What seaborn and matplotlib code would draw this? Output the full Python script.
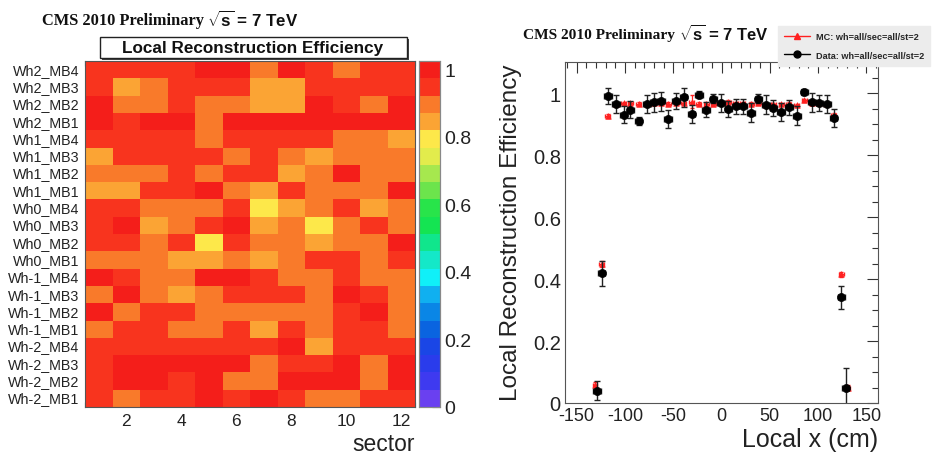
import matplotlib
matplotlib.use("Agg")
import matplotlib.pyplot as plt
from matplotlib.colors import ListedColormap
from matplotlib.patches import Rectangle
from matplotlib.lines import Line2D
from matplotlib.ticker import MultipleLocator, FixedLocator
import numpy as np
import pandas as pd
import seaborn as sns

# ---------------- data ----------------
sectors = list(range(1, 13))
chambers = ["Wh2_MB4", "Wh2_MB3", "Wh2_MB2", "Wh2_MB1",
            "Wh1_MB4", "Wh1_MB3", "Wh1_MB2", "Wh1_MB1",
            "Wh0_MB4", "Wh0_MB3", "Wh0_MB2", "Wh0_MB1",
            "Wh-1_MB4", "Wh-1_MB3", "Wh-1_MB2", "Wh-1_MB1",
            "Wh-2_MB4", "Wh-2_MB3", "Wh-2_MB2", "Wh-2_MB1"]
efficiency = [
    [0.95, 0.95, 0.95, 0.95, 0.99, 0.99, 0.90, 0.99, 0.95, 0.90, 0.95, 0.95],
    [0.95, 0.85, 0.90, 0.95, 0.95, 0.95, 0.85, 0.85, 0.95, 0.95, 0.95, 0.96],
    [0.99, 0.90, 0.90, 0.95, 0.90, 0.90, 0.85, 0.85, 0.99, 0.95, 0.90, 0.99],
    [0.99, 0.95, 0.99, 0.99, 0.90, 0.99, 0.99, 0.99, 0.99, 0.99, 0.99, 0.99],
    [0.95, 0.95, 0.95, 0.95, 0.90, 0.95, 0.95, 0.95, 0.95, 0.90, 0.90, 0.85],
    [0.85, 0.95, 0.95, 0.95, 0.95, 0.90, 0.95, 0.90, 0.85, 0.90, 0.90, 0.90],
    [0.90, 0.90, 0.90, 0.95, 0.90, 0.95, 0.95, 0.85, 0.90, 0.99, 0.90, 0.90],
    [0.85, 0.85, 0.95, 0.95, 0.99, 0.90, 0.85, 0.95, 0.90, 0.90, 0.90, 0.99],
    [0.95, 0.95, 0.90, 0.90, 0.90, 0.95, 0.80, 0.85, 0.90, 0.95, 0.85, 0.90],
    [0.95, 0.99, 0.85, 0.90, 0.95, 0.99, 0.85, 0.90, 0.80, 0.90, 0.95, 0.90],
    [0.95, 0.95, 0.90, 0.95, 0.80, 0.95, 0.90, 0.90, 0.85, 0.90, 0.90, 0.99],
    [0.90, 0.90, 0.90, 0.85, 0.85, 0.90, 0.85, 0.90, 0.95, 0.95, 0.90, 0.95],
    [0.99, 0.95, 0.90, 0.90, 0.99, 0.99, 0.95, 0.90, 0.90, 0.95, 0.90, 0.90],
    [0.90, 0.99, 0.90, 0.85, 0.90, 0.95, 0.95, 0.95, 0.90, 0.99, 0.95, 0.90],
    [0.99, 0.90, 0.95, 0.95, 0.90, 0.90, 0.90, 0.90, 0.90, 0.95, 0.99, 0.90],
    [0.90, 0.95, 0.95, 0.90, 0.90, 0.95, 0.85, 0.95, 0.90, 0.95, 0.95, 0.90],
    [0.95, 0.95, 0.95, 0.95, 0.95, 0.95, 0.95, 0.99, 0.85, 0.95, 0.95, 0.95],
    [0.95, 0.99, 0.99, 0.99, 0.99, 0.99, 0.90, 0.95, 0.95, 0.99, 0.90, 0.99],
    [0.95, 0.99, 0.99, 0.95, 0.99, 0.90, 0.90, 0.99, 0.99, 0.99, 0.90, 0.99],
    [0.95, 0.90, 0.95, 0.95, 0.99, 0.95, 0.99, 0.95, 0.90, 0.90, 0.95, 0.95],
]
sector_ticks = [2, 4, 6, 8, 10, 12]
cbar_ticks = [0, 0.2, 0.4, 0.6, 0.8, 1]

# right panel: data
data_x = [-129, -124, -117.7, -109, -101.4, -94.2, -85.9, -77.3, -70, -62.4, -55.2,
          -46.9, -39.3, -31, -23.5, -15.8, -8.3, -0.3, 7.2, 14.5, 22, 30.7, 38.3,
          46.3, 53.8, 61.8, 69.7, 78, 85.9, 93.5, 101.4, 109, 116, 124, 128.4]
data_eff = [0.040, 0.419, 0.990, 0.965, 0.930, 0.946, 0.909, 0.965, 0.970, 0.973, 0.916,
            0.975, 0.986, 0.932, 0.995, 0.946, 0.982, 0.968, 0.948, 0.957, 0.957, 0.937,
            0.982, 0.962, 0.952, 0.939, 0.954, 0.927, 1.003, 0.970, 0.968, 0.965, 0.919,
            0.341, 0.048]
data_err = [0.030, 0.040, 0.025, 0.030, 0.028, 0.027, 0.012, 0.030, 0.030, 0.030, 0.030,
            0.025, 0.030, 0.030, 0.012, 0.025, 0.015, 0.030, 0.025, 0.025, 0.025, 0.030,
            0.015, 0.030, 0.025, 0.030, 0.025, 0.030, 0.010, 0.030, 0.025, 0.030, 0.030,
            0.038, 0.065]
# right panel: MC
mc_x = [-131, -124, -117.7, -109, -101.4, -94.2, -85.9, -77.3, -70, -62.4, -55.2,
        -46.9, -39.3, -31, -23.5, -15.8, -8.3, -0.3, 7.2, 14.5, 22, 30.7, 38.3,
        46.3, 53.8, 61.8, 69.7, 78, 85.9, 93.5, 101.4, 109, 116, 124, 131]
mc_eff = [0.059, 0.448, 0.925, 0.965, 0.968, 0.968, 0.966, 0.965, 0.968, 0.968, 0.966,
          0.968, 0.967, 0.972, 0.966, 0.966, 0.965, 0.968, 0.972, 0.968, 0.968, 0.966,
          0.967, 0.962, 0.964, 0.963, 0.966, 0.962, 0.976, 0.969, 0.967, 0.966, 0.928,
          0.416, 0.050]
mc_err = [0.008, 0.010, 0.006, 0.004, 0.004, 0.004, 0.004, 0.004, 0.004, 0.004, 0.004,
          0.004, 0.004, 0.020, 0.004, 0.004, 0.004, 0.004, 0.004, 0.004, 0.004, 0.004,
          0.004, 0.004, 0.004, 0.004, 0.004, 0.004, 0.004, 0.004, 0.004, 0.004, 0.006,
          0.008, 0.008]
x_ticks = [-150, -100, -50, 0, 50, 100, 150]
y_ticks = [0, 0.2, 0.4, 0.6, 0.8, 1]

palette_colors = ["#6a40f0", "#3e3af0", "#2a3cec", "#1a46e6", "#0a64e0", "#0a86e6",
                  "#10b0f0", "#10f0f8", "#14e8c8", "#10e68c", "#14e452", "#28e44a",
                  "#6ce44c", "#a6e84e", "#e2ec4c", "#fde84a", "#fba434", "#f97a2a",
                  "#f8341e", "#f41e1a"]

# ---------------- figure ----------------
sns.set_style("white")
plt.rcParams["font.family"] = ["Liberation Sans", "DejaVu Sans"]
plt.rcParams["mathtext.fontset"] = "custom"
plt.rcParams["mathtext.rm"] = "Liberation Sans:bold"
plt.rcParams["mathtext.bf"] = "Liberation Sans:bold"
plt.rcParams["mathtext.it"] = "Liberation Sans:bold"

W, H = 933, 460
fig = plt.figure(figsize=(W / 100, H / 100), dpi=100)
fig.patch.set_facecolor("white")


def fy(py):
    return 1 - py / H


ax_h = fig.add_axes([85 / W, fy(408), 330 / W, 346 / H])
cax = fig.add_axes([419 / W, fy(408), 21 / W, 346 / H])
ax_r = fig.add_axes([565 / W, fy(404), 313 / W, 341 / H])

# ---- heatmap ----
df = pd.DataFrame(efficiency, index=chambers, columns=sectors)
cmap = ListedColormap(palette_colors)
sns.heatmap(df, ax=ax_h, cmap=cmap, vmin=0, vmax=1.025, cbar_ax=cax,
            linewidths=0, cbar_kws={"ticks": cbar_ticks})

ax_h.set_xlabel("")
ax_h.set_ylabel("")
ax_h.xaxis.set_major_locator(FixedLocator([s - 0.5 for s in sector_ticks]))
ax_h.set_xticklabels([str(s) for s in sector_ticks])
ax_h.xaxis.set_minor_locator(FixedLocator(list(np.arange(0, 12.01, 0.5))))
ax_h.tick_params(axis="x", which="major", direction="in", length=7, width=0.8,
                 top=True, bottom=True, labelsize=12.5, pad=4, colors="#222222",
                 labelcolor="#222222")
ax_h.tick_params(axis="x", which="minor", direction="in", length=3.5, width=0.8,
                 top=True, bottom=True, colors="#222222")
ax_h.yaxis.set_major_locator(FixedLocator([i + 0.5 for i in range(len(chambers))]))
ax_h.set_yticklabels(chambers, rotation=0)
ax_h.yaxis.set_minor_locator(FixedLocator([2, 4, 6, 8, 10, 12, 14, 16, 18]))
ax_h.tick_params(axis="y", which="major", length=0, labelsize=10.3, pad=4,
                 labelcolor="#222222")
ax_h.tick_params(axis="y", which="minor", direction="in", length=5, width=0.8,
                 left=True, right=True, colors="#222222")
for sp in ax_h.spines.values():
    sp.set_visible(True)
    sp.set_color("#555555")
    sp.set_linewidth(0.8)

cax.tick_params(direction="in", length=6, width=0.8, labelsize=14, pad=3,
                colors="#222222", labelcolor="#222222")
cax.set_yticklabels(["0", "0.2", "0.4", "0.6", "0.8", "1"])
for sp in cax.spines.values():
    sp.set_visible(True)
    sp.set_color("#888888")
    sp.set_linewidth(0.8)

# heatmap title box with shadow
fig.patches.append(Rectangle((102 / W, fy(61)), 307 / W, 21 / H, transform=fig.transFigure,
                             fc="#444444", ec="none", zorder=1))
fig.patches.append(Rectangle((100 / W, fy(59)), 307 / W, 21 / H, transform=fig.transFigure,
                             fc="white", ec="#222222", lw=1, zorder=2))
fig.text(253 / W, fy(48.5), "Local Reconstruction Efficiency", ha="center", va="center",
         fontsize=12.3, fontweight="bold", color="#111111", zorder=3)

fig.text(415 / W, fy(451), "sector", ha="right", va="baseline", fontsize=16.5,
         color="#222222")

# CMS labels
fig.text(42 / W, fy(21), "CMS 2010 Preliminary", ha="left", va="center",
         family=["Liberation Serif", "DejaVu Serif"], fontweight="bold", fontsize=11.8,
         color="#111111")
fig.text(207 / W, fy(20), r"$\sqrt{s}$ = 7 TeV", ha="left", va="center",
         fontweight="bold", fontsize=12.2, color="#111111")
fig.text(523 / W, fy(35), "CMS 2010 Preliminary", ha="left", va="center",
         family=["Liberation Serif", "DejaVu Serif"], fontweight="bold", fontsize=11.1,
         color="#111111")
fig.text(679 / W, fy(34), r"$\sqrt{s}$ = 7 TeV", ha="left", va="center",
         fontweight="bold", fontsize=12.0, color="#111111")

# ---- right panel ----
half_bin = [3.9] * len(data_x)
ax_r.errorbar(mc_x, mc_eff, yerr=mc_err, xerr=[2.5] * len(mc_x), fmt="none",
              ecolor="#ff2020", elinewidth=0.9, capsize=1.5, zorder=2)
sns.scatterplot(x=mc_x, y=mc_eff, ax=ax_r, marker="^", s=16, color="#ff2020",
                edgecolor="#ff2020", linewidth=0.5, zorder=3, legend=False)
ax_r.errorbar(data_x, data_eff, yerr=data_err, xerr=half_bin, fmt="none",
              ecolor="#222222", elinewidth=1.0, capsize=2, zorder=4)
sns.scatterplot(x=data_x, y=data_eff, ax=ax_r, marker="o", s=34, color="black",
                edgecolor="black", linewidth=0.5, zorder=5, legend=False)

ax_r.set_xlim(-162, 162)
ax_r.set_ylim(0, 1.1)
ax_r.xaxis.set_major_locator(FixedLocator(x_ticks))
ax_r.xaxis.set_minor_locator(MultipleLocator(10))
ax_r.yaxis.set_major_locator(FixedLocator(y_ticks))
ax_r.yaxis.set_minor_locator(MultipleLocator(0.05))
ax_r.set_xticklabels([str(v) for v in x_ticks])
ax_r.set_yticklabels(["0", "0.2", "0.4", "0.6", "0.8", "1"])
ax_r.tick_params(axis="both", which="major", direction="in", length=8, width=0.8,
                 top=True, right=True, colors="#333333", labelcolor="#222222")
ax_r.tick_params(axis="both", which="minor", direction="in", length=4, width=0.8,
                 top=True, right=True, colors="#333333")
ax_r.tick_params(axis="x", which="major", labelsize=13, pad=3)
ax_r.tick_params(axis="y", which="major", labelsize=14.5, pad=3)
for sp in ax_r.spines.values():
    sp.set_visible(True)
    sp.set_color("#555555")
    sp.set_linewidth(0.8)
ax_r.set_xlabel("")
ax_r.set_ylabel("")

fig.text(878 / W, fy(440), "Local x (cm)", ha="right", va="center", fontsize=18,
         color="#222222")
fig.text(511 / W, fy(233), "Local Reconstruction Efficiency", ha="center", va="center",
         rotation=90, fontsize=17.5, color="#222222")

# legend
handles = [Line2D([0], [0], color="#ff2020", lw=1, marker="^", markersize=4),
           Line2D([0], [0], color="black", lw=1, marker="o", markersize=5)]
leg = fig.legend(handles, ["MC: wh=all/sec=all/st=2", "Data: wh=all/sec=all/st=2"],
                 loc="upper left", bbox_to_anchor=(778 / W, fy(27)),
                 prop={"size": 6.6, "weight": "bold"}, frameon=True, fancybox=False,
                 facecolor="#ececec", edgecolor="#ececec", framealpha=1,
                 handlelength=2.8, handletextpad=0.6, labelspacing=1.0,
                 borderpad=0.7, borderaxespad=0)

fig.savefig("out.png", dpi=100, facecolor="white")
